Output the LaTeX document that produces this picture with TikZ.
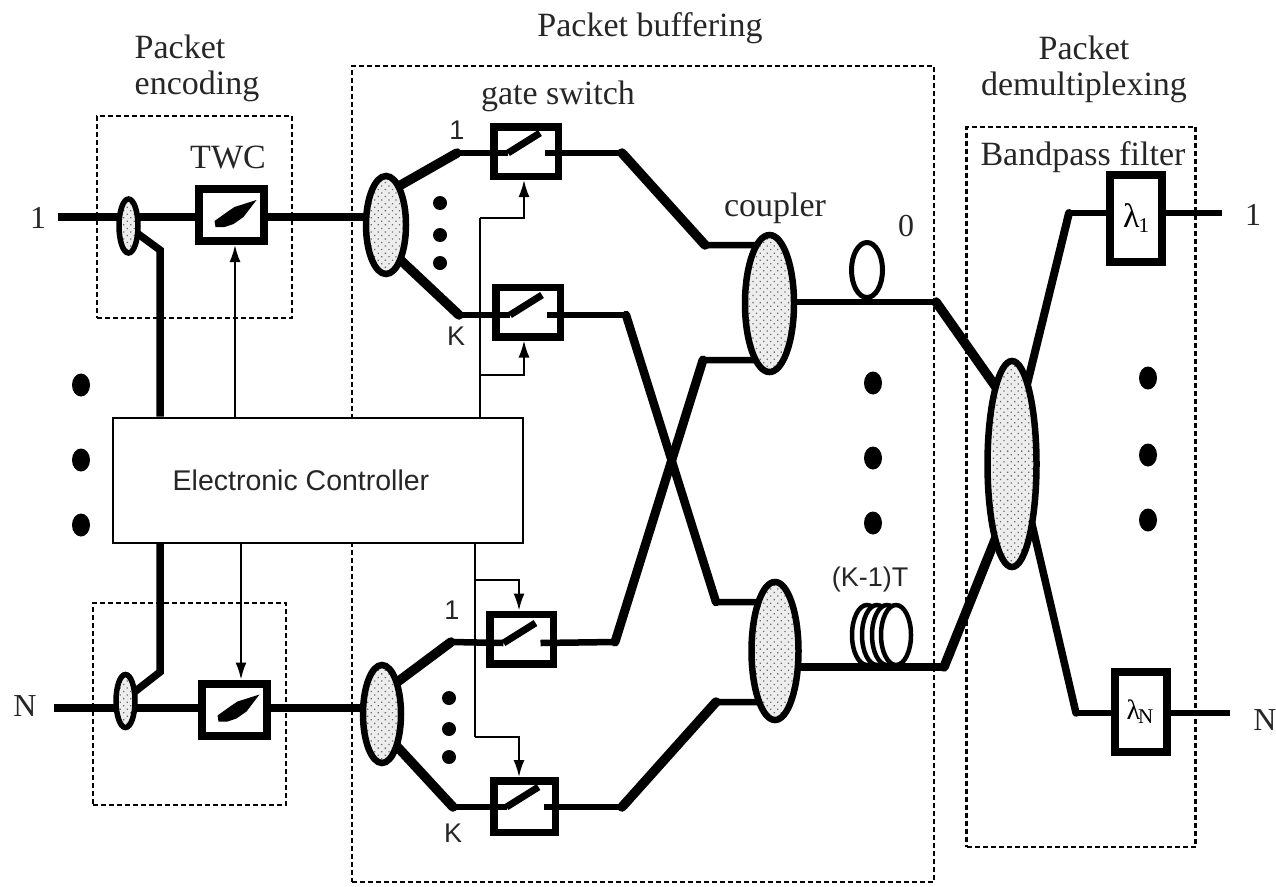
\documentclass[tikz,border=0pt]{standalone}
\usepackage{fontspec}
\setmainfont{Liberation Serif}
\setsansfont{Liberation Sans}
\usetikzlibrary{shapes.geometric,arrows.meta,patterns.meta,backgrounds}
\tikzset{
  x=1pt,y=-1pt,
  grp/.style={draw,line width=2.2pt,dash pattern=on 5pt off 3pt,inner sep=0pt},
  fib/.style={line width=6.5pt,line join=miter},
  feed/.style={line width=8.5pt,line join=miter},
  fibb/.style={line width=9.5pt,line cap=round},
  ctl/.style={line width=2pt,-{Latex[length=17pt,width=11pt]}},
  ctlg/.style={line width=2pt},
  couple/.style={ellipse,draw,line width=6.5pt,inner sep=0pt,preaction={fill=gray!14},pattern={Dots[radius=.9pt,distance=5pt,angle=45]},pattern color=gray!85!black},
  swbox/.style={rectangle,draw,line width=7.5pt,inner sep=0pt,minimum width=64.5pt,minimum height=49.5pt},
  twcbox/.style={rectangle,draw,line width=8pt,inner sep=0pt,minimum width=65pt,minimum height=52pt},
  fltbox/.style={rectangle,draw,line width=8pt,inner sep=0pt,minimum width=52pt},
  bigdot/.style={ellipse,fill=black,inner sep=0pt,minimum width=18pt,minimum height=23pt},
  smalldot/.style={circle,fill=black,inner sep=0pt,minimum size=14pt},
  lab/.style={inner sep=0pt,align=center,font=\fontsize{34}{36}\selectfont,text=black!85},
  sym/.style={inner sep=0pt,font=\fontsize{32}{36}\selectfont,text=black!85},
  sanslab/.style={inner sep=0pt,font=\sffamily\fontsize{27}{30}\selectfont,text=black!85},
  loopn/.style={ellipse,draw,fill=white,inner sep=0pt},
}
\begin{document}
\begin{tikzpicture}
\useasboundingbox (0,0) rectangle (1276,886);
% devices
\node[twcbox] (twc1) at (231.5,215) {};
\node[twcbox] (twcN) at (234.5,709.5) {};
\node[swbox] (sw1) at (526,151.5) {};
\node[swbox] (sw2) at (528,312) {};
\node[swbox,minimum width=63.5pt] (sw3) at (521.5,639) {};
\node[swbox,minimum width=61.5pt,minimum height=51.5pt] (sw4) at (524.5,806.5) {};
\node[fltbox,minimum height=87pt,font=\fontsize{34}{36}\selectfont] (f1) at (1136,218.5) {λ\kern-1pt\raisebox{-5pt}{\fontsize{21}{22}\selectfont 1}};
\node[fltbox,minimum height=80pt,font=\fontsize{28}{30}\selectfont] (fN) at (1141,712) {\kern-2ptλ\kern-2pt\raisebox{-4pt}{\fontsize{21}{22}\selectfont N}};
% couplers
\node[couple,line width=5.5pt,minimum width=19pt,minimum height=54pt] (s1) at (128.5,226) {};
\node[couple,line width=5.5pt,minimum width=19pt,minimum height=53pt] (sN) at (125.5,701) {};
\node[couple,minimum width=40pt,minimum height=98pt] (l1) at (386,225) {};
\node[couple,minimum width=38pt,minimum height=98pt] (lN) at (382,714) {};
\node[couple,minimum width=49pt,minimum height=137pt] (c1) at (769.5,303.5) {};
\node[couple,minimum width=47pt,minimum height=138pt] (c2) at (775,651) {};
\node[couple,minimum width=49pt,minimum height=206pt] (dm) at (1012,464) {};
% controller
\node[rectangle,draw,line width=2pt,fill=white,minimum width=410pt,minimum height=125pt,inner sep=0pt,font=\sffamily\fontsize{28.5}{30}\selectfont,text=black!85] (ec) at (318,480) {\hspace*{-34pt}Electronic Controller};
% way-points
\coordinate (s1i) at (130,228);
\coordinate (b1) at (160,250);
\coordinate (sNi) at (128,697);
\coordinate (bN) at (160,672);
\coordinate (l1u) at (392,190);
\coordinate (l1d) at (392,252);
\coordinate (lNu) at (388,689);
\coordinate (lNd) at (392,741);
\coordinate (a1) at (457,153);
\coordinate (a2) at (459,315);
\coordinate (a3) at (451,642);
\coordinate (a4) at (453,807);
\coordinate (o1) at (622,153);
\coordinate (o1b) at (705,245);
\coordinate (o2) at (626,315);
\coordinate (o2b) at (716,602);
\coordinate (o3) at (615,642);
\coordinate (o3b) at (703,360);
\coordinate (o4) at (622,807);
\coordinate (o4b) at (716,702);
\coordinate (d0) at (936,302);
\coordinate (d0i) at (1005,400);
\coordinate (dK) at (944,667);
\coordinate (dKi) at (1003,520);
\coordinate (e1) at (1069,213);
\coordinate (e1i) at (1022,405);
\coordinate (e2) at (1076,713);
\coordinate (e2i) at (1028,507);
\coordinate (in1) at (58,217);
\coordinate (inN) at (54,708);
\coordinate (out1) at (1222,213);
\coordinate (outN) at (1230,713);
\coordinate (t1) at (480,218);
\coordinate (t2) at (480,375);
\coordinate (u1) at (475,580);
\coordinate (u2) at (475,737);
\begin{pgfonlayer}{background}
% group boxes
\node[grp,minimum width=195pt,minimum height=202pt] (genc1) at (194.5,217) {};
\node[grp,minimum width=193pt,minimum height=202pt] (gencN) at (189.5,704) {};
\node[grp,minimum width=582pt,minimum height=816pt] (gbuf) at (643,474) {};
\node[grp,minimum width=229pt,minimum height=720pt] (gdem) at (1081,487) {};
% fibres
\draw[feed] (in1) -- (twc1.west |- in1);
\draw[feed] (twc1.east |- in1) -- (l1.center |- in1);
\draw[feed] (inN) -- (twcN.west |- inN);
\draw[feed] (twcN.east |- inN) -- (lN.center |- inN);
\draw[fib,line width=7.5pt] (s1i) -- (b1) -- (b1 |- ec.north);
\draw[fib,line width=7.5pt] (sNi) -- (bN) -- (bN |- ec.south);
\draw[fibb] (l1u) -- (a1);
\draw[fibb] (l1d) -- (a2);
\draw[fibb] (lNu) -- (a3);
\draw[fibb] (lNd) -- (a4);
\foreach \n/\d/\a/\o in {sw1/1.5/a1/o1,sw2/3/a2/o2,sw3/4/a3/o3,sw4/0.5/a4/o4}{
  \path (\n.center) ++(-18,\d) coordinate (\n p);
  \path (\n.center) ++(19,\d) coordinate (\n q);
  \draw[fib] (\a) -- (\n p);
  \draw[fib,line width=7pt] (\n p) -- ++(32,-20);
  \draw[fib] (\n q) -- (\o);
}
\draw[fib] (o1) -- (o1b) -- (c1.center |- o1b);
\draw[fibb] (o1) -- (o1b);
\draw[fib] (o2) -- (o2b) -- (c2.center |- o2b);
\draw[fibb,line width=8.5pt] (o2) -- (o2b);
\draw[fib] (o3) -- (o3b) -- (c1.center |- o3b);
\draw[fibb,line width=9pt] (o3) -- (o3b);
\draw[fib] (o4) -- (o4b) -- (c2.center |- o4b);
\draw[fibb] (o4) -- (o4b);
\draw[fib] (c1.center |- d0) -- (d0);
\draw[fibb] (d0) -- (d0i);
\draw[feed] (c2.center |- dK) -- (dK);
\draw[fibb] (dK) -- (dKi);
\draw[fib] (f1.west |- e1) -- (e1);
\draw[fibb,line width=8pt] (e1) -- (e1i);
\draw[fib] (fN.west |- e2) -- (e2);
\draw[fibb,line width=7.5pt] (e2) -- (e2i);
\draw[fib] (f1.east |- out1) -- (out1);
\draw[fib] (fN.east |- outN) -- (outN);
% control lines
\draw[ctlg] (t1 |- ec.north) -- (t2) -- (t1);
\draw[ctlg] (u1 |- ec.south) -- (u1) -- (u2);
\draw[ctl] (t1) -| (524,0 |- sw1.south);
\draw[ctl] (t2) -| (524,0 |- sw2.south);
\draw[ctl] (u1) -| (519,0 |- sw3.north);
\draw[ctl] (u2) -| (519,0 |- sw4.north);
\draw[ctl] (235,0 |- ec.north) -- (235,0 |- twc1.south);
\draw[ctl] (241,0 |- ec.south) -- (241,0 |- twcN.north);
\end{pgfonlayer}
% wavelength converter marks
\foreach \n in {twc1,twcN}{
  \fill (\n.center) ++(-17,6) -- ++(14,-10) -- ++(6,-4) -- ++(22,-7) -- ++(-13,17) -- ++(-10,7) -- ++(-9,3) -- ++(-9,0) -- cycle;
}
% fibre delay loops
\node[loopn,line width=5pt,minimum width=31pt,minimum height=55pt] (loop0) at (867,270) {};
\foreach \i/\xx in {1/867,2/877,3/887,4/896}{
  \node[loopn,line width=4.5pt,minimum width=30pt,minimum height=60pt] (coil\i) at (\xx,635) {};
}
% dots
\foreach \i/\yy in {1/385,2/460,3/525}{\node[bigdot] (dl\i) at (81,\yy) {};}
\foreach \i/\yy in {1/383,2/458,3/523}{\node[bigdot] (dc\i) at (873,\yy) {};}
\foreach \i/\yy in {1/378,2/455,3/520}{\node[bigdot] (dr\i) at (1148,\yy) {};}
\foreach \i/\yy in {1/203,2/235,3/263}{\node[smalldot] (du\i) at (440,\yy) {};}
\foreach \i/\yy in {1/698,2/729,3/757}{\node[smalldot] (dd\i) at (449,\yy) {};}
% labels
\node[lab,align=left] (tenc) at (197,68) {Packet\\encoding};
\node[lab] (tbuf) at (650,28) {Packet buffering};
\node[lab] (tgate) at (558,96) {gate switch};
\node[lab] (ttwc) at (228,157) {TWC};
\node[lab] (tcoup) at (775,208) {coupler};
\node[sym] (t0) at (906,226) {0};
\node[lab] (tdem) at (1084,69) {Packet\\demultiplexing};
\node[lab] (tbp) at (1083,157) {Bandpass filter};
\node[sym] (li1) at (38,218) {1};
\node[sym] (liN) at (25,706) {N};
\node[sym] (lo1) at (1253,215) {1};
\node[sym] (loN) at (1265,720) {N};
\node[sanslab] (k11) at (457,130) {1};
\node[sanslab] (kK1) at (456,336) {K};
\node[sanslab] (k12) at (452,610) {1};
\node[sanslab] (kK2) at (453,833) {K};
\node[sanslab] (kd) at (870,580) {(K-1)T};
\end{tikzpicture}
\end{document}
